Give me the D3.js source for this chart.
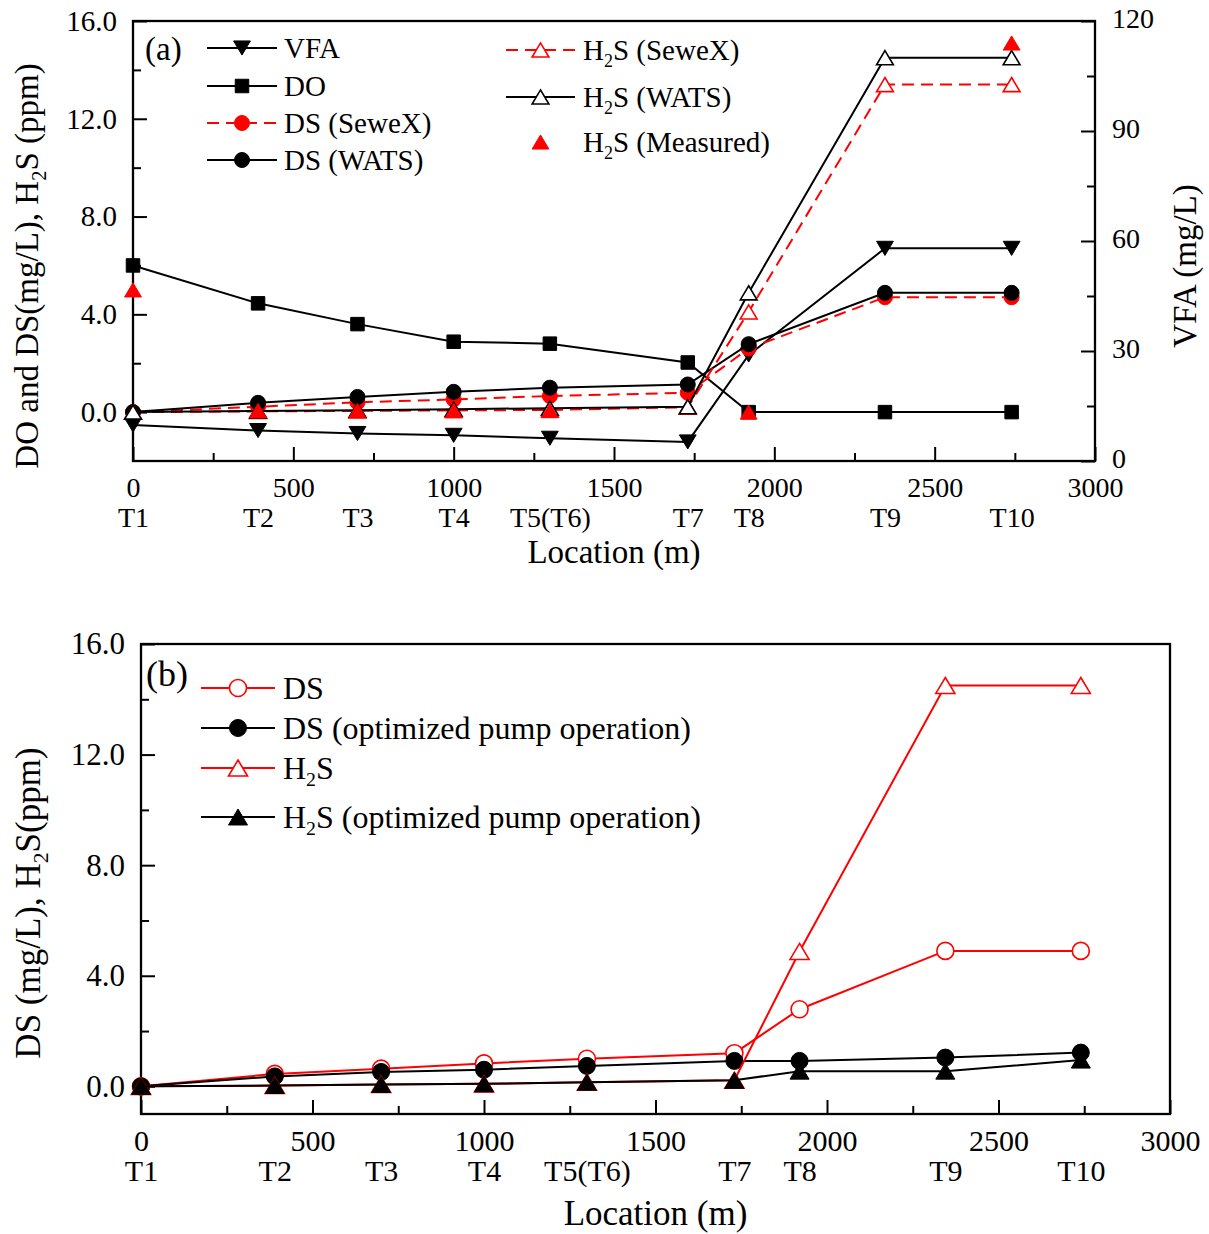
<!DOCTYPE html>
<html><head><meta charset="utf-8">
<script src="https://cdn.jsdelivr.net/npm/d3@7"></script>
<style>
body{margin:0;background:#fff}
text{font-family:"Liberation Serif","Times New Roman",serif;fill:#000}
</style>
</head><body>
<svg id="c" width="1209" height="1234" xmlns="http://www.w3.org/2000/svg"></svg>
<script>
// ---------- data ----------
const stations  = ["T1","T2","T3","T4","T5(T6)","T7","T8","T9","T10"];
const locations = [0, 390, 700, 1000, 1300, 1730, 1920, 2345, 2740];

const xTicks      = [0, 500, 1000, 1500, 2000, 2500, 3000];
const xMinorTicks = [250, 750, 1250, 1750, 2250, 2750];
const yTicks      = [0, 4, 8, 12, 16];
const yMinorTicks = [2, 6, 10, 14];
const vfaTicks    = [0, 30, 60, 90, 120];
const vfaMinor    = [15, 45, 75, 105];

// panel (a)
const vfa        = [9.8, 8.3, 7.5, 7.0, 6.2, 5.2, 28.9, 58, 58];        // mg/L, right axis
const dO         = [6.0, 4.45, 3.6, 2.88, 2.8, 2.03, 0, 0, 0];
const dsSewex    = [0, 0.22, 0.4, 0.52, 0.66, 0.79, 2.6, 4.7, 4.7];
const dsWats     = [0, 0.38, 0.62, 0.83, 1.0, 1.13, 2.78, 4.88, 4.88];
const h2sSewex   = [0, 0.03, 0.05, 0.07, 0.09, 0.2, 4.1, 13.4, 13.4];
const h2sWats    = [0, 0.05, 0.08, 0.12, 0.16, 0.22, 4.88, 14.5, 14.5];
const h2sMeasured= [5.0, 0.06, 0.06, 0.06, 0.06, null, 0.0, null, 15.1];

// panel (b)
const dsBase     = [0, 0.45, 0.64, 0.83, 1.0, 1.2, 2.79, 4.9, 4.9];
const dsOpt      = [0, 0.36, 0.52, 0.6, 0.74, 0.92, 0.92, 1.04, 1.22];
const h2sBase    = [0, 0.03, 0.07, 0.09, 0.15, 0.22, 4.88, 14.5, 14.5];
const h2sOpt     = [0, 0.03, 0.07, 0.09, 0.15, 0.22, 0.55, 0.55, 0.95];

// ---------- helpers ----------
const svg = d3.select("#c");
const RED = "#ff0000";

function richText(sel, str, fs) {
  const parts = str.split(/(_\d)/);
  let reset = false;
  parts.forEach(p => {
    if (!p) return;
    if (p[0] === "_") {
      sel.append("tspan").attr("font-size", fs * 0.62).attr("dy", fs * 0.24).text(p.slice(1));
      reset = true;
    } else {
      const t = sel.append("tspan").text(p);
      if (reset) { t.attr("dy", -fs * 0.24); reset = false; }
    }
  });
  return sel;
}

function markerPath(type, s) {
  const h = s / 2;
  if (type === "square") return `M${-h*0.9},${-h*0.9}H${h*0.9}V${h*0.9}H${-h*0.9}Z`;
  if (type === "circle") return d3.symbol(d3.symbolCircle, Math.PI * h * h)();
  const w = s * 0.56, tv = s * 0.47;
  if (type === "triUp") return `M0,${-tv}L${w},${tv}L${-w},${tv}Z`;
  if (type === "triDown") return `M0,${tv}L${w},${-tv}L${-w},${-tv}Z`;
}

function drawMarker(g, m, x, y, s) {
  g.append("path")
    .attr("d", markerPath(m.mk, s))
    .attr("transform", `translate(${x},${y})`)
    .attr("fill", m.fill)
    .attr("stroke", m.stroke)
    .attr("stroke-width", m.open ? 1.6 : 1);
}

function panel(cfg) {
  const g = svg.append("g");
  const x = d3.scaleLinear().domain([0, 3000]).range([cfg.left, cfg.right]);
  const y = d3.scaleLinear().domain(cfg.yDomain).range([cfg.bottom, cfg.top]);
  const y2 = cfg.y2Domain ? d3.scaleLinear().domain(cfg.y2Domain).range([cfg.bottom, cfg.top]) : null;
  const fs = cfg.tickFs;

  function style(a, size) {
    a.select(".domain").remove();
    a.selectAll(".tick line").attr("stroke", "#000").attr("stroke-width", 2);
    a.selectAll("text").attr("font-size", size)
      .attr("font-family", '"Liberation Serif","Times New Roman",serif').attr("fill", "#000");
    a.attr("font-size", null).attr("font-family", null);
  }

  // bottom axis
  g.append("g").attr("transform", `translate(0,${cfg.bottom})`)
    .call(d3.axisBottom(x).tickValues(xTicks).tickSize(-14).tickPadding(cfg.xPad).tickFormat(d3.format("d")))
    .call(a => style(a, fs));
  g.append("g").attr("transform", `translate(0,${cfg.bottom})`)
    .call(d3.axisBottom(x).tickValues(xMinorTicks).tickSize(-8).tickFormat(""))
    .call(a => style(a, fs));
  g.append("g").attr("transform", `translate(0,${cfg.bottom})`)
    .call(d3.axisBottom(x).tickValues(locations).tickSize(0).tickPadding(cfg.tPad).tickFormat((d, i) => stations[i]))
    .call(a => { style(a, fs); a.selectAll(".tick line").remove(); });

  // left axis
  g.append("g").attr("transform", `translate(${cfg.left},0)`)
    .call(d3.axisLeft(y).tickValues(yTicks).tickSize(-14).tickPadding(16).tickFormat(d3.format(".1f")))
    .call(a => style(a, cfg.yTickFs || fs));
  g.append("g").attr("transform", `translate(${cfg.left},0)`)
    .call(d3.axisLeft(y).tickValues(yMinorTicks).tickSize(-8).tickFormat(""))
    .call(a => style(a, fs));

  if (y2) {
    g.append("g").attr("transform", `translate(${cfg.right},0)`)
      .call(d3.axisRight(y2).tickValues(vfaTicks).tickSize(-14).tickPadding(17).tickFormat(d3.format("d")))
      .call(a => { style(a, 28); a.selectAll("text").attr("dy", "0.22em"); });
    g.append("g").attr("transform", `translate(${cfg.right},0)`)
      .call(d3.axisRight(y2).tickValues(vfaMinor).tickSize(-8).tickFormat(""))
      .call(a => style(a, fs));
  }

  // frame
  g.append("rect").attr("x", cfg.left).attr("y", cfg.top)
    .attr("width", cfg.right - cfg.left).attr("height", cfg.bottom - cfg.top)
    .attr("fill", "none").attr("stroke", "#000").attr("stroke-width", 2.3);

  // series
  cfg.series.forEach(s => {
    const sc = s.axis === "R" ? y2 : y;
    const pts = s.vals.map((v, i) => ({ x: locations[i], v })).filter(d => d.v != null);
    if (s.line) {
      g.append("path")
        .attr("d", d3.line().x(d => x(d.x)).y(d => sc(d.v))(pts))
        .attr("fill", "none").attr("stroke", s.color).attr("stroke-width", 2)
        .attr("stroke-dasharray", s.line === "dash" ? "12,7" : null);
    }
    pts.forEach(d => drawMarker(g, s, x(d.x), sc(d.v), cfg.mkSize));
  });

  // legend
  cfg.legend.forEach(col => {
    col.rows.forEach((r, i) => {
      const s = cfg.series[r];
      const yy = col.ys[i];
      if (s.line) {
        g.append("line").attr("x1", col.x1).attr("x2", col.x2).attr("y1", yy).attr("y2", yy)
          .attr("stroke", s.color).attr("stroke-width", 2)
          .attr("stroke-dasharray", s.line === "dash" ? "12,7" : null);
      }
      drawMarker(g, s, (col.x1 + col.x2) / 2, yy, cfg.mkSize);
      const t = g.append("text").attr("x", col.tx).attr("y", yy + cfg.legFs * 0.33)
        .attr("font-size", cfg.legFs);
      richText(t, s.name, cfg.legFs);
    });
  });

  // panel label
  g.append("text").attr("x", cfg.tagX).attr("y", cfg.tagY).attr("font-size", cfg.tagFs).text(cfg.tag);

  // titles
  g.append("text").attr("x", (cfg.left + cfg.right) / 2).attr("y", cfg.xTitleY)
    .attr("text-anchor", "middle").attr("font-size", cfg.titleFs).text("Location (m)");
  richText(g.append("text").attr("transform", `translate(${cfg.yTitleX},${cfg.yTitleY}) rotate(-90)`)
    .attr("text-anchor", "middle").attr("font-size", cfg.titleFs), cfg.yTitle, cfg.titleFs);
  if (cfg.y2Title) {
    g.append("text").attr("transform", `translate(${cfg.y2TitleX},${cfg.yTitleY}) rotate(-90)`)
      .attr("text-anchor", "middle").attr("font-size", cfg.titleFs).text(cfg.y2Title);
  }
}

// ---------- panel (a) ----------
panel({
  left: 133, right: 1095, top: 21, bottom: 461,
  yDomain: [-2, 16], y2Domain: [0, 120],
  tickFs: 28, yTickFs: 29, legFs: 29, titleFs: 33, tagFs: 33, mkSize: 15,
  xPad: 16, tPad: 46,
  tag: "(a)", tagX: 145, tagY: 60,
  xTitleY: 563, yTitleX: 38, yTitleY: 266, y2TitleX: 1196,
  yTitle: "DO and DS(mg/L), H_2S (ppm)", y2Title: "VFA (mg/L)",
  series: [
    { name: "VFA", vals: vfa, axis: "R", line: "solid", color: "#000", mk: "triDown", fill: "#000", stroke: "#000" },
    { name: "DO", vals: dO, line: "solid", color: "#000", mk: "square", fill: "#000", stroke: "#000" },
    { name: "DS (SeweX)", vals: dsSewex, line: "dash", color: RED, mk: "circle", fill: RED, stroke: RED },
    { name: "DS (WATS)", vals: dsWats, line: "solid", color: "#000", mk: "circle", fill: "#000", stroke: "#000" },
    { name: "H_2S (SeweX)", vals: h2sSewex, line: "dash", color: RED, mk: "triUp", fill: "#fff", stroke: RED, open: true },
    { name: "H_2S (WATS)", vals: h2sWats, line: "solid", color: "#000", mk: "triUp", fill: "#fff", stroke: "#000", open: true },
    { name: "H_2S (Measured)", vals: h2sMeasured, line: null, color: RED, mk: "triUp", fill: RED, stroke: RED }
  ],
  legend: [
    { x1: 207, x2: 277, tx: 284, rows: [0, 1, 2, 3], ys: [48, 86, 123, 160] },
    { x1: 506, x2: 575, tx: 583, rows: [4, 5, 6], ys: [50, 97, 142] }
  ]
});

// ---------- panel (b) ----------
panel({
  left: 141, right: 1170, top: 644, bottom: 1114,
  yDomain: [-1, 16],
  tickFs: 30, yTickFs: 31, legFs: 32, titleFs: 35, tagFs: 36, mkSize: 17,
  xPad: 16, tPad: 46,
  tag: "(b)", tagX: 146, tagY: 686,
  xTitleY: 1225, yTitleX: 40, yTitleY: 903,
  yTitle: "DS (mg/L), H_2S(ppm)",
  series: [
    { name: "DS", vals: dsBase, line: "solid", color: RED, mk: "circle", fill: "#fff", stroke: RED, open: true },
    { name: "DS (optimized pump operation)", vals: dsOpt, line: "solid", color: "#000", mk: "circle", fill: "#000", stroke: "#000" },
    { name: "H_2S", vals: h2sBase, line: "solid", color: RED, mk: "triUp", fill: "#fff", stroke: RED, open: true },
    { name: "H_2S (optimized pump operation)", vals: h2sOpt, line: "solid", color: "#000", mk: "triUp", fill: "#000", stroke: "#000" }
  ],
  legend: [
    { x1: 201, x2: 275, tx: 283, rows: [0, 1, 2, 3], ys: [688, 728, 768, 817] }
  ]
});
</script>
</body></html>
